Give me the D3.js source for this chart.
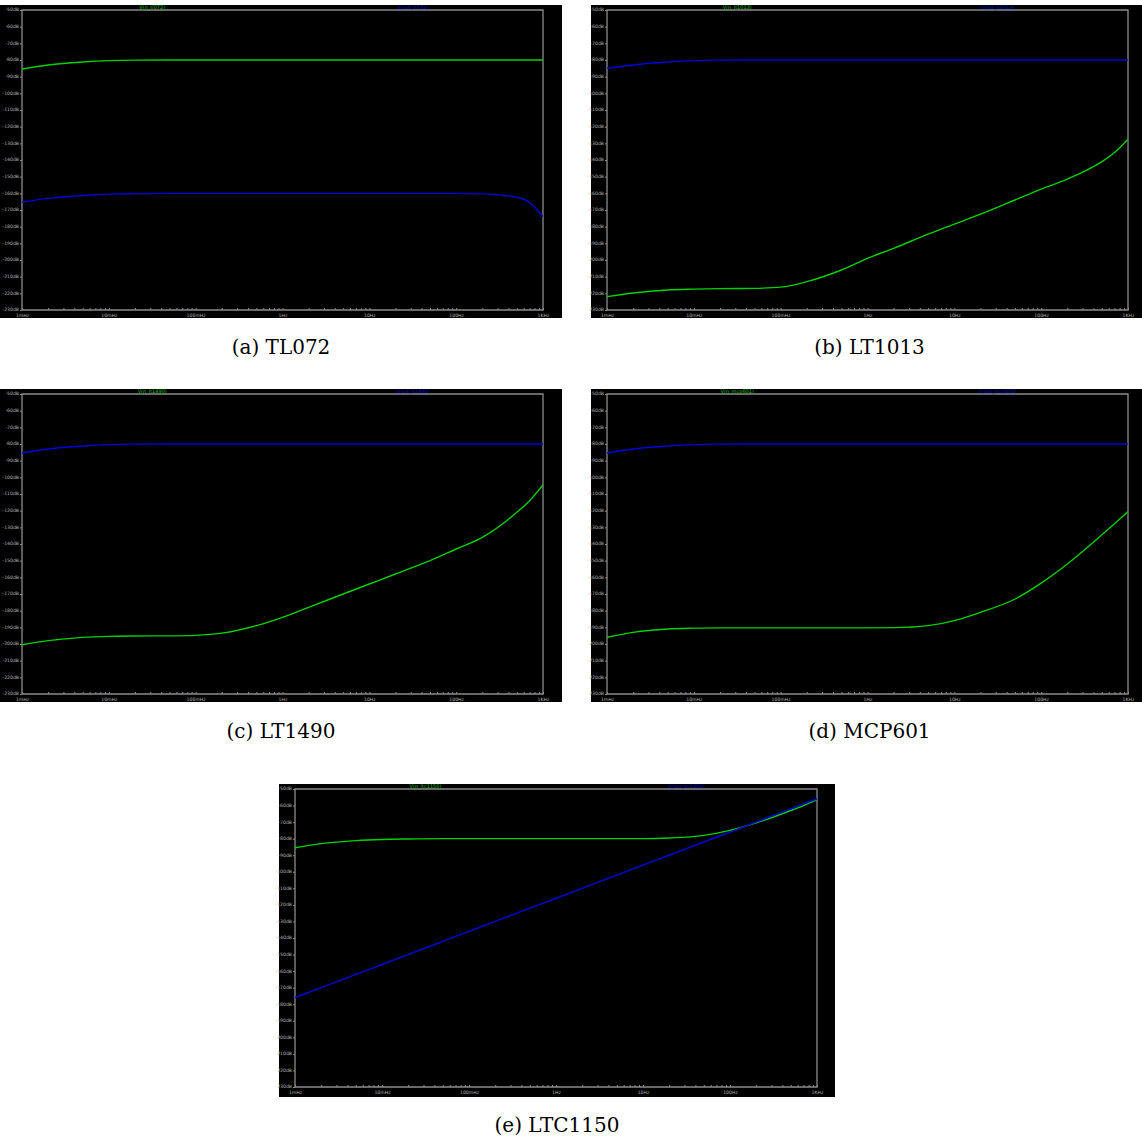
<!DOCTYPE html>
<html>
<head>
<meta charset="utf-8">
<script src="https://cdn.jsdelivr.net/npm/d3@7"></script>
<style>
  body { margin: 0; background: #fff; }
  svg { display: block; }
</style>
</head>
<body>
<div id="root"></div>
<script>
// frequency grid shared by every trace (Hz)
const freqs = [0.001, 0.002, 0.005, 0.01, 0.02, 0.05, 0.1, 0.2, 0.5, 1, 2, 5, 10, 20, 50, 100, 200, 500, 700, 1000];

const xTickLabels = ["1mHz", "10mHz", "100mHz", "1Hz", "10Hz", "100Hz", "1KHz"];
const yTicks = [-50, -60, -70, -80, -90, -100, -110, -120, -130, -140, -150, -160, -170, -180, -190, -200, -210, -220, -230];

// traces, dB
const tl072In = [-85.4, -83, -81.2, -80.4, -80.1, -80, -80, -80, -80, -80, -80, -80, -80, -80, -80, -80, -80, -80, -80, -80];
const tl072Out = [-165.2, -163, -161.3, -160.5, -160.2, -160, -160, -160, -160, -160, -160, -160, -160, -160, -160, -160, -160.3, -162.3, -165.5, -174];

const lt1013In = [-222, -219.8, -218, -217.5, -217.2, -217, -216.3, -213, -206, -199, -193, -184.5, -178.5, -172.5, -164, -157.5, -151.5, -141, -135.5, -127.5];
const lt1013Out = [-85, -83, -81.2, -80.4, -80.1, -80, -80, -80, -80, -80, -80, -80, -80, -80, -80, -80, -80, -80, -80, -80];

const lt1490In = [-200.5, -198, -196, -195.4, -195.2, -195.1, -194.8, -193.5, -189, -184, -178, -170, -164, -158, -150, -143, -136, -121, -114, -104.5];
const lt1490Out = [-85.4, -83, -81.2, -80.4, -80.1, -80, -80, -80, -80, -80, -80, -80, -80, -80, -80, -80, -80, -80, -80, -80];

const mcp601In = [-196, -193, -191, -190.5, -190.3, -190.3, -190.3, -190.3, -190.3, -190.3, -190.2, -189, -186, -181, -173, -163.5, -152, -134.5, -127.8, -120.5];
const mcp601Out = [-85.4, -83, -81.2, -80.4, -80.1, -80, -80, -80, -80, -80, -80, -80, -80, -80, -80, -80, -80, -80, -80, -80];

const ltc1150In = [-85.5, -83, -81.2, -80.5, -80.2, -80, -80, -80, -80, -80, -80, -80, -80, -79.6, -78, -75, -70.5, -63, -60, -56.5];
const ltc1150Out = [-176, -170, -162, -156, -150, -142, -136, -130, -122, -116, -110, -102, -96, -90, -82, -76, -70, -62, -59, -56];

const panels = [
  { caption: "(a) TL072", greenName: "V(n_tl072)", blueName: "V(out_tl072)", green: tl072In, blue: tl072Out,
    box: [0, 5, 562, 313], plot: [22, 10, 521, 300], capY: 354 },
  { caption: "(b) LT1013", greenName: "V(n_lt1013)", blueName: "V(out_lt1013)", green: lt1013In, blue: lt1013Out,
    box: [591, 5, 551, 313], plot: [607, 10, 521, 300], capY: 354 },
  { caption: "(c) LT1490", greenName: "V(n_lt1490)", blueName: "V(out_lt1490)", green: lt1490In, blue: lt1490Out,
    box: [0, 389, 562, 313], plot: [22, 394, 521, 300], capY: 738 },
  { caption: "(d) MCP601", greenName: "V(n_mcp601)", blueName: "V(out_mcp601)", green: mcp601In, blue: mcp601Out,
    box: [591, 389, 551, 313], plot: [607, 394, 521, 300], capY: 738 },
  { caption: "(e) LTC1150", greenName: "V(n_ltc1150)", blueName: "V(out_ltc1150)", green: ltc1150In, blue: ltc1150Out,
    box: [279, 784, 556, 313], plot: [295, 789, 522, 298], capY: 1132 },
];

const svg = d3.select("#root").append("svg")
  .attr("width", 1142)
  .attr("height", 1140);

const axisGray = "#8c8c8c";
const tinyFont = "DejaVu Sans, sans-serif";

panels.forEach(p => {
  const [bx, by, bw, bh] = p.box;
  const [px, py, pw, ph] = p.plot;
  const g = svg.append("g");

  g.append("rect")
    .attr("x", bx).attr("y", by)
    .attr("width", bw).attr("height", bh)
    .attr("fill", "#000");

  const x = d3.scaleLog().domain([0.001, 1000]).range([px, px + pw]);
  const y = d3.scaleLinear().domain([-230, -50]).range([py + ph, py]);

  // frame
  g.append("path")
    .attr("d", `M${px},${py + ph}V${py}H${px + pw}V${py + ph}Z`)
    .attr("fill", "none")
    .attr("stroke", axisGray)
    .attr("stroke-width", 1.3);

  // x axis: decade labels + minor ticks pointing up
  const isDecade = d => Math.abs(Math.log10(d) - Math.round(Math.log10(d))) < 1e-9;
  const xAxis = d3.axisBottom(x)
    .tickValues(d3.range(-3, 3).flatMap(e => d3.range(1, 10).map(m => m * 10 ** e)).concat([1000]))
    .tickSizeInner(-2)
    .tickSizeOuter(0)
    .tickFormat(d => isDecade(d) ? xTickLabels[Math.round(Math.log10(d)) + 3] : "");

  const gx = g.append("g")
    .attr("transform", `translate(0,${py + ph})`)
    .call(xAxis);
  gx.select(".domain").remove();
  gx.selectAll("line").attr("stroke", axisGray);
  gx.selectAll("text")
    .attr("fill", "#b4b4b4")
    .attr("font-size", 4.6)
    .attr("font-family", tinyFont)
    .attr("y", 3.5)
    .attr("dy", "0.71em");

  // y axis
  const yAxis = d3.axisLeft(y)
    .tickValues(yTicks)
    .tickSizeInner(2)
    .tickSizeOuter(0)
    .tickFormat(d => `${d}dB`);

  const gy = g.append("g")
    .attr("transform", `translate(${px},0)`)
    .call(yAxis);
  gy.select(".domain").remove();
  gy.selectAll("line").attr("stroke", axisGray);
  gy.selectAll("text")
    .attr("fill", "#b4b4b4")
    .attr("font-size", 4.6)
    .attr("font-family", tinyFont)
    .attr("x", -3)
    .attr("dy", "0.2em");

  // trace names
  g.append("text")
    .attr("x", px + pw * 0.25)
    .attr("y", by + 4)
    .attr("text-anchor", "middle")
    .attr("font-size", 5)
    .attr("font-family", tinyFont)
    .attr("fill", "#00c000")
    .text(p.greenName);

  g.append("text")
    .attr("x", px + pw * 0.75)
    .attr("y", by + 4)
    .attr("text-anchor", "middle")
    .attr("font-size", 5)
    .attr("font-family", tinyFont)
    .attr("fill", "#0000d0")
    .text(p.blueName);

  const line = d3.line()
    .x((d, i) => x(freqs[i]))
    .y(d => y(d))
    .curve(d3.curveMonotoneX);

  const clipId = `clip-${p.caption.replace(/\W/g, "")}`;
  g.append("clipPath").attr("id", clipId)
    .append("rect")
    .attr("x", px).attr("y", py).attr("width", pw).attr("height", ph);

  const traces = g.append("g").attr("clip-path", `url(#${clipId})`);

  traces.append("path")
    .attr("d", line(p.green))
    .attr("fill", "none")
    .attr("stroke", "#00d200")
    .attr("stroke-width", 1.4);

  traces.append("path")
    .attr("d", line(p.blue))
    .attr("fill", "none")
    .attr("stroke", "#0000e0")
    .attr("stroke-width", 1.4);

  // caption under the panel
  svg.append("text")
    .attr("x", bx + bw / 2 + (bw === 551 ? 3 : 0))
    .attr("y", p.capY)
    .attr("text-anchor", "middle")
    .attr("font-size", 20)
    .attr("font-family", "DejaVu Serif, serif")
    .attr("fill", "#000")
    .text(p.caption);
});
</script>
</body>
</html>
